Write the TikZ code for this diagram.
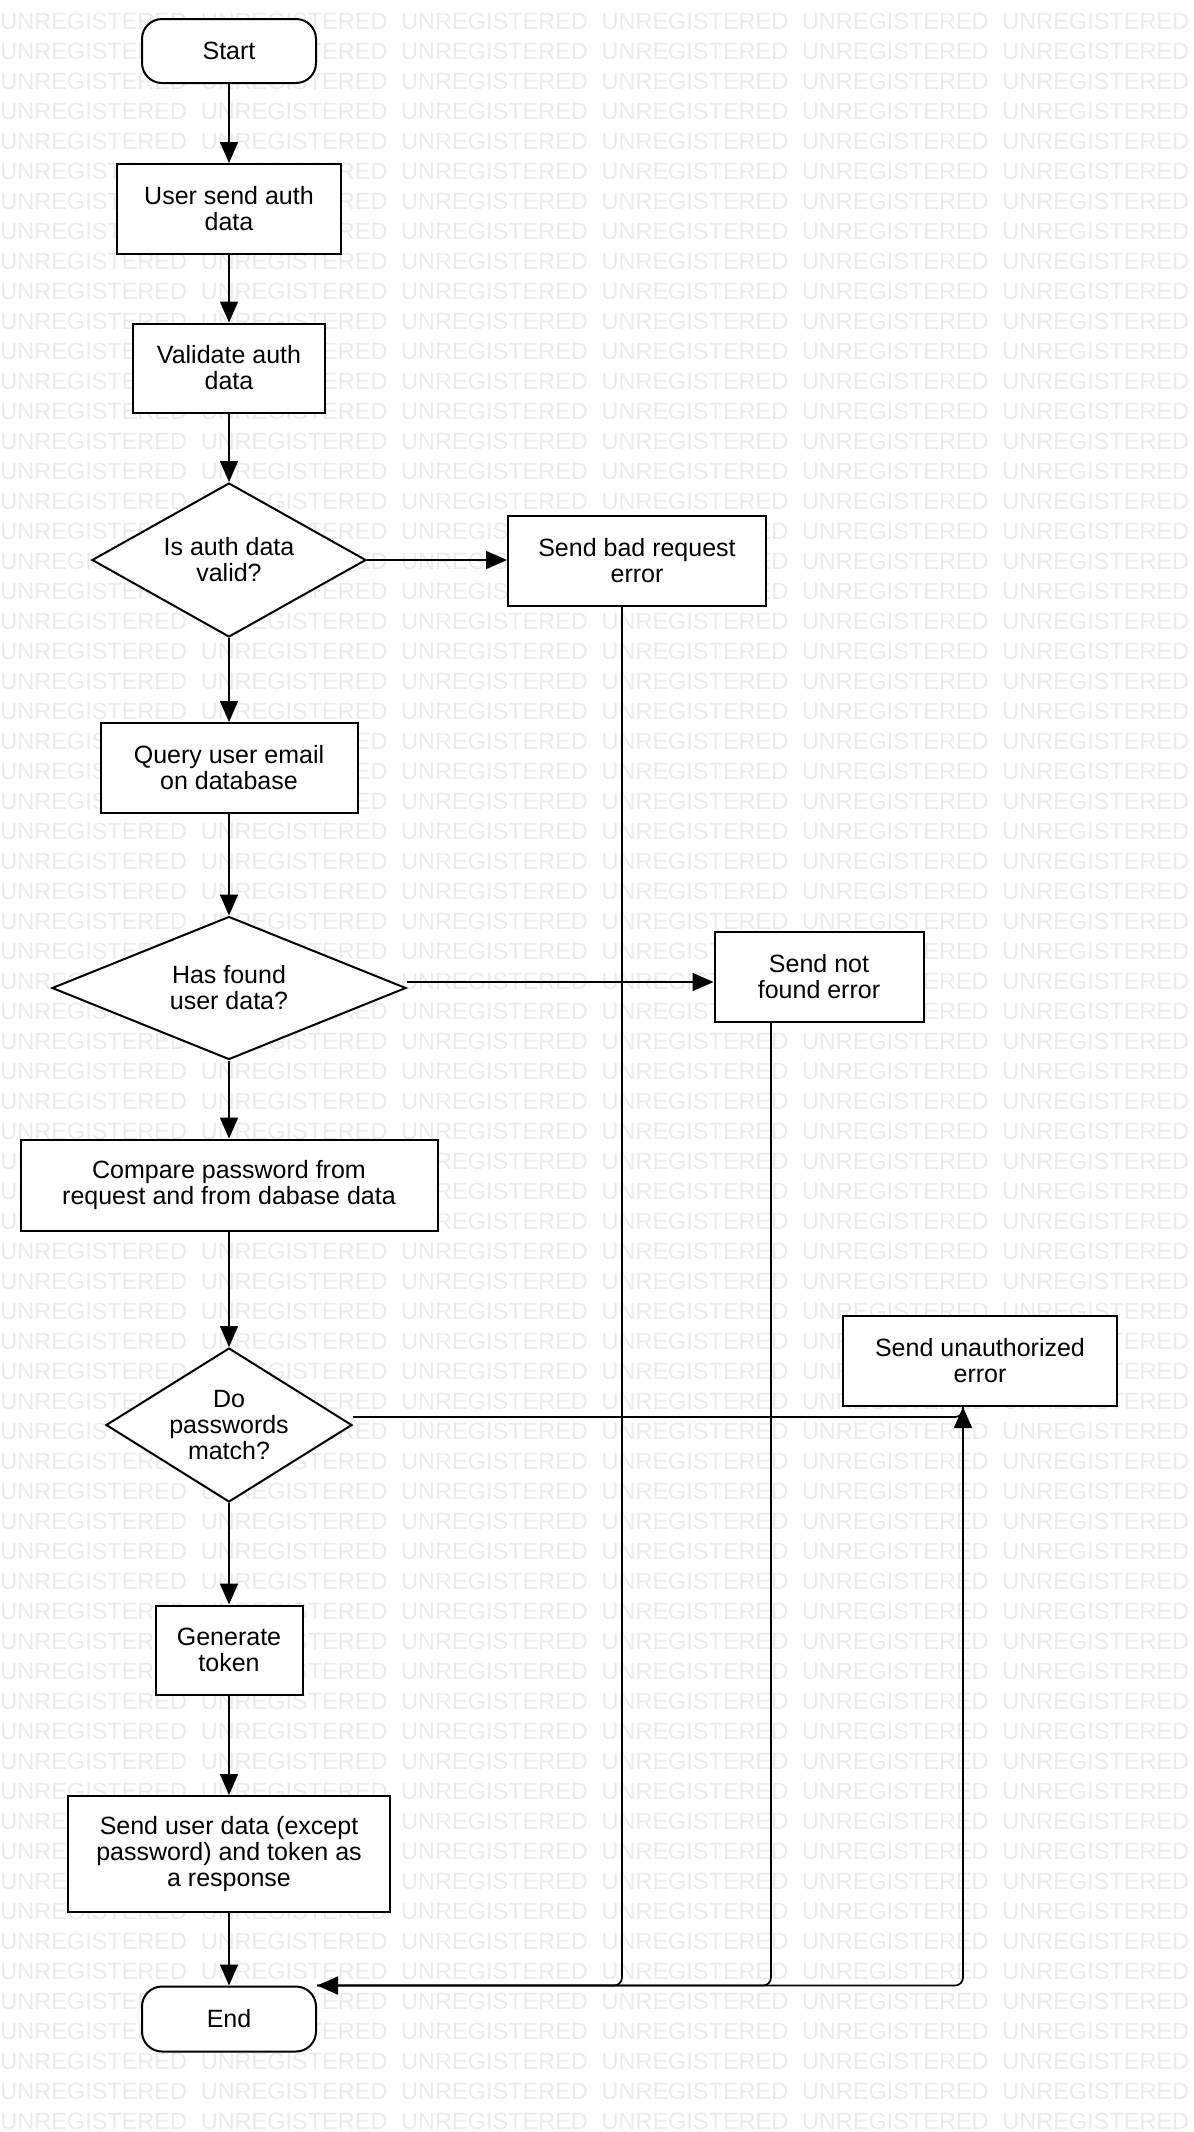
\documentclass[tikz,border=0pt]{standalone}
\usepackage{fontspec}
\setmainfont{Liberation Sans}
\usetikzlibrary{shapes.geometric,arrows.meta}
\begin{document}
\begin{tikzpicture}[x=0.5pt,y=-0.5pt,
  wm/.style={text=black!8, font=\fontsize{11.75pt}{12pt}\selectfont, inner sep=0pt, anchor=base west},
  base/.style={draw=black, line width=1pt, fill=white, align=center, inner sep=0pt, font=\fontsize{12.5pt}{13pt}\selectfont},
  proc/.style={base, rectangle},
  term/.style={base, rectangle, rounded corners=10pt},
  decide/.style={base, diamond, aspect=1.8},
  conn/.style={line width=0.85pt, draw=black},
  arr/.style={conn, -{Triangle[length=10.5pt,width=9pt]}},
]
\useasboundingbox (0,0) rectangle (1194,2132);
\fill[white] (0,0) rectangle (1194,2132);
\foreach \k in {0,...,70}{%
  \foreach \i in {0,...,5}{%
    \node[wm] (wm-\k-\i) at ({200.4*\i},{29+30*\k}) {UNREGISTERED};
  }%
}

% nodes
\node[term, minimum width=87pt, minimum height=32pt] (start) at (229,51) {Start};
\node[proc, minimum width=112pt, minimum height=45pt] (user) at (229,209) {User send auth\\data};
\node[proc, minimum width=96pt, minimum height=44.5pt] (valid) at (229,368) {Validate auth\\data};
\node[decide, minimum width=137pt, minimum height=77pt] (d1) at (229,560) {Is auth data\\valid?};
\node[proc, minimum width=129pt, minimum height=45pt] (bad) at (637,561) {Send bad request\\error};
\node[proc, minimum width=128.5pt, minimum height=45pt] (query) at (229,768) {Query user email\\on database};
\node[decide, minimum width=177pt, minimum height=71.5pt] (d2) at (229,988) {Has found\\user data?};
\node[proc, minimum width=104.5pt, minimum height=45pt] (nf) at (819,977) {Send not\\found error};
\node[proc, minimum width=208.5pt, minimum height=45.5pt] (cmp) at (229,1185) {Compare password from\\request and from dabase data};
\node[decide, minimum width=123pt, minimum height=77pt] (d3) at (229,1425) {Do\\passwords\\match?};
\node[proc, minimum width=137pt, minimum height=45pt] (unauth) at (980,1361) {Send unauthorized\\error};
\node[proc, minimum width=73.5pt, minimum height=44.5pt] (gen) at (229,1650) {Generate\\token};
\node[proc, minimum width=161pt, minimum height=58pt] (send) at (229,1854) {Send user data (except\\password) and token as\\a response};
\node[term, minimum width=87pt, minimum height=32.5pt] (end) at (229,2019) {End};

% main column
\draw[arr] (start) -- (user);
\draw[arr] (user) -- (valid);
\draw[arr] (valid) -- (d1);
\draw[arr] (d1) -- (query);
\draw[arr] (query) -- (d2);
\draw[arr] (d2) -- (cmp);
\draw[arr] (cmp) -- (d3);
\draw[arr] (d3) -- (gen);
\draw[arr] (gen) -- (send);
\draw[arr] (send) -- (end);

% branches
\draw[arr] (d1.east) -- (d1.east -| bad.west);
\draw[arr] ([yshift=3pt]d2.east) -- ([yshift=3pt]d2.east -| nf.west);
\draw[conn, rounded corners=4pt] ([yshift=4pt]d3.east) -| ([xshift=-8.5pt]unauth.south);
\draw[arr] ([xshift=-8.5pt,yshift=-10.5pt]unauth.south) -- ([xshift=-8.5pt]unauth.south);

% error paths to End
\coordinate (endc) at (end.north east);
\draw[conn, rounded corners=4pt] ([xshift=-7.5pt]bad.south) |- (endc);
\draw[conn, rounded corners=4pt] ([xshift=-24pt]nf.south) |- (endc);
\draw[arr, rounded corners=4pt] ([xshift=-8.5pt]unauth.south) |- (endc);
\end{tikzpicture}
\end{document}
